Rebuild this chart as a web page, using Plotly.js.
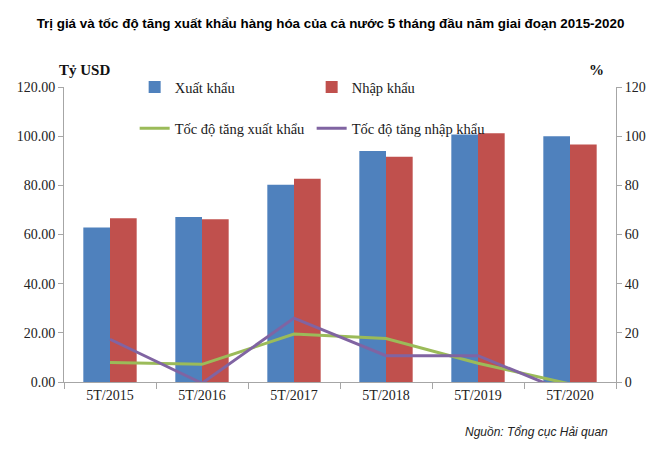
<!DOCTYPE html>
<html>
<head>
<meta charset="utf-8">
<script src="https://cdn.plot.ly/plotly-3.0.1.min.js"></script>
<style>
  html, body { margin: 0; padding: 0; background: #fff; }
  #chart { width: 661px; height: 451px; }
</style>
</head>
<body>
<div id="chart"></div>
<script>
const categories = ['5T/2015', '5T/2016', '5T/2017', '5T/2018', '5T/2019', '5T/2020'];
const exportValues = [62.8, 67.1, 80.2, 94.0, 100.7, 100.0];
const importValues = [66.6, 66.2, 82.7, 91.6, 101.2, 96.6];
const exportGrowth = [7.9, 7.2, 19.5, 17.7, 7.6, -0.8];
const importGrowth = [17.4, -0.5, 26.0, 10.7, 10.7, -4.6];
const leftTicks = [0, 20, 40, 60, 80, 100, 120];

const serif = 'Liberation Serif, Times New Roman, serif';
const sans = 'Liberation Sans, Arial, sans-serif';
const axisColor = '#a6a6a6';

const traces = [
    {
        x: categories, y: exportValues, name: 'Xuất khẩu', type: 'bar',
        marker: { color: '#4f81bd' }, legend: 'legend', hoverinfo: 'skip'
    },
    {
        x: categories, y: importValues, name: 'Nhập khẩu', type: 'bar',
        marker: { color: '#c0504d' }, legend: 'legend', hoverinfo: 'skip'
    },
    {
        x: categories, y: exportGrowth, name: 'Tốc độ tăng xuất khẩu', type: 'scatter', mode: 'lines',
        yaxis: 'y2', line: { color: '#9bbb59', width: 3 }, legend: 'legend2', hoverinfo: 'skip'
    },
    {
        x: categories, y: importGrowth, name: 'Tốc độ tăng nhập khẩu', type: 'scatter', mode: 'lines',
        yaxis: 'y2', line: { color: '#8064a2', width: 3 }, legend: 'legend2', hoverinfo: 'skip'
    }
];

const legendBase = {
    orientation: 'h', xanchor: 'left', yanchor: 'middle',
    font: { family: serif, size: 14.5, color: '#1a1a1a' },
    bgcolor: 'rgba(0,0,0,0)', entrywidth: 132, entrywidthmode: 'pixels',
    itemwidth: 30, traceorder: 'normal'
};

Plotly.newPlot('chart', traces, {
    width: 661,
    height: 451,
    margin: { l: 64, r: 45, t: 87, b: 69 },
    paper_bgcolor: '#fff',
    plot_bgcolor: '#fff',
    barmode: 'group',
    bargap: 0.42,
    bargroupgap: 0,
    title: {
        text: 'Trị giá và tốc độ tăng xuất khẩu hàng hóa của cả nước 5 tháng đầu năm giai đoạn 2015-2020',
        font: { family: sans, size: 13.4, color: '#000', weight: 'bold' },
        x: 0.5, xanchor: 'center', y: 0.948, yanchor: 'middle'
    },
    xaxis: {
        type: 'category',
        showline: true, linecolor: axisColor, linewidth: 1,
        ticks: 'outside', tickson: 'boundaries', ticklen: 6, tickcolor: axisColor,
        tickfont: { family: serif, size: 14, color: '#222' },
        showgrid: false, zeroline: false, fixedrange: true
    },
    yaxis: {
        range: [0, 120], tickvals: leftTicks,
        ticktext: leftTicks.map(v => v.toFixed(2)),
        showline: true, linecolor: axisColor, linewidth: 1,
        ticks: 'outside', ticklen: 5, tickcolor: axisColor,
        tickfont: { family: serif, size: 14, color: '#222' },
        showgrid: false, zeroline: false, fixedrange: true
    },
    yaxis2: {
        range: [0, 120], tickvals: leftTicks, overlaying: 'y', side: 'right',
        showline: true, linecolor: axisColor, linewidth: 1,
        ticks: 'outside', ticklen: 5, tickcolor: axisColor,
        tickfont: { family: serif, size: 14, color: '#222' },
        showgrid: false, zeroline: false, fixedrange: true
    },
    legend: Object.assign({}, legendBase, { x: 0.128, y: 1.0 }),
    legend2: Object.assign({}, legendBase, { x: 0.128, y: 0.86 }),
    annotations: [
        {
            text: 'Tỷ USD', xref: 'paper', yref: 'paper', x: -0.012, y: 1.025,
            xanchor: 'left', yanchor: 'bottom', showarrow: false,
            font: { family: serif, size: 15, color: '#111', weight: 'bold' }
        },
        {
            text: '%', xref: 'paper', yref: 'paper', x: 0.965, y: 1.025,
            xanchor: 'center', yanchor: 'bottom', showarrow: false,
            font: { family: serif, size: 15, color: '#111', weight: 'bold' }
        },
        {
            text: '<i>Nguồn: Tổng cục Hải quan</i>', xref: 'paper', yref: 'paper', x: 0.99, y: -0.17,
            xanchor: 'right', yanchor: 'middle', showarrow: false,
            font: { family: sans, size: 12, color: '#222' }
        }
    ],
    hovermode: false
}, { displayModeBar: false, staticPlot: true });
</script>
</body>
</html>
